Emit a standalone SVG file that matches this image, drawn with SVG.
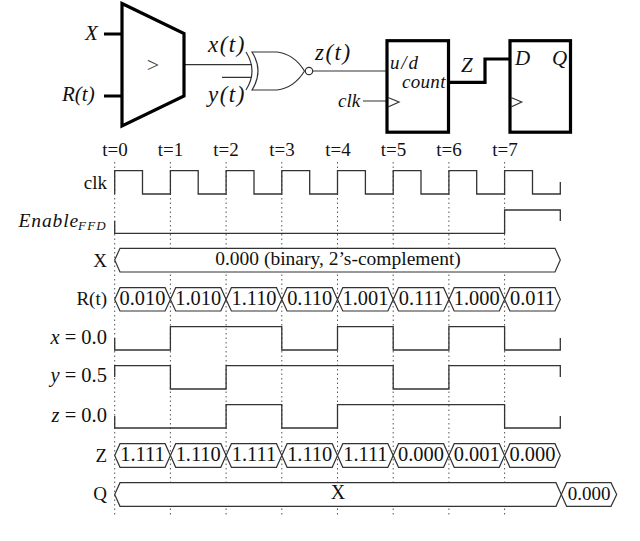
<svg xmlns="http://www.w3.org/2000/svg" width="640" height="541" viewBox="0 0 640 541">
<style>
text{font-family:"Liberation Serif","Times New Roman",serif;fill:#111;font-size:19px}
.i{font-style:italic}
.r{text-anchor:end}
.m{text-anchor:middle}
.v{font-size:20.400px;text-anchor:middle}
.fn{font-size:23px;font-style:italic;letter-spacing:1.500px}
.eq{font-size:20.500px;text-anchor:end}
.thick{fill:none;stroke:#000;stroke-width:3.2}
.thin{fill:none;stroke:#333;stroke-width:1.2}
.wave{fill:none;stroke:#333;stroke-width:1.3}
.bus{fill:#fff;stroke:#333;stroke-width:1.2}
.grid{fill:none;stroke:#555;stroke-width:1;stroke-dasharray:1.5 3}
</style>
<rect width="640" height="541" fill="#fff"/>
<g id="connectors">
<path class="thick" d="M104 34H122M104 96H122"/>
<path class="thin" d="M184 64.700H252M222 77.300H252M313 71H387M363 101H388"/>
<path class="thick" d="M448 82.300H485V59H510"/>
</g>
<g id="comparator">
<polygon class="thick" points="122,3.500 184,33.500 184,96 122,126"/>
<text class="m" x="153" y="72" style="font-size:22px;fill:#444">&gt;</text>
</g>
<g id="xnor">
<path class="thin" d="M246 52Q258 71 246 90M252 52H277Q294 54 304.500 71Q294 88 277 90H252Q264 71 252 52Z"/>
<circle class="thin" cx="309" cy="71" r="3.700"/>
</g>
<g id="counter">
<rect class="thick" x="387" y="40.700" width="61.500" height="91.500"/>
<path class="thin" d="M388 97.500L399 102L388 107"/>
<text class="i" x="390" y="69" style="letter-spacing:1.800px">u/d</text>
<text class="i" x="402" y="88" style="letter-spacing:.3px">count</text>
</g>
<g id="flipflop">
<rect class="thick" x="510" y="40.700" width="60.500" height="91.500"/>
<path class="thin" d="M511 97.500L521.700 102L511 107"/>
<text class="i" x="515" y="65" style="font-size:21px">D</text>
<text class="i" x="552" y="65" style="font-size:21px">Q</text>
</g>
<g id="circuit-labels">
<text class="i" x="85" y="40" style="font-size:21px">X</text>
<text class="i" x="62" y="101" style="font-size:21px">R(t)</text>
<text class="fn" x="208" y="52">x(t)</text>
<text class="fn" x="208" y="102">y(t)</text>
<text class="fn" x="315" y="60">z(t)</text>
<text class="i" x="461" y="72" style="font-size:21px">Z</text>
<text class="i" x="338" y="107">clk</text>
</g>
<g id="grid">
<path class="grid" d="M114.700 162V517M170.400 162V517M226.100 162V517M281.800 162V517M337.500 162V517M393.200 162V517M448.900 162V517M504.600 162V517"/>
</g>
<g id="time-labels">
<text class="m" x="115" y="156">t=0</text>
<text class="m" x="170.500" y="156">t=1</text>
<text class="m" x="226" y="156">t=2</text>
<text class="m" x="282" y="156">t=3</text>
<text class="m" x="338" y="156">t=4</text>
<text class="m" x="393.500" y="156">t=5</text>
<text class="m" x="449" y="156">t=6</text>
<text class="m" x="505" y="156">t=7</text>
</g>
<g id="sig-clk">
<text class="r" x="107" y="189">clk</text>
<path class="wave" d="M114.700 194V170.700H142.500V194H170.400V170.700H198.200V194H226.100V170.700H254V194H281.800V170.700H309.700V194H337.500V170.700H365.400V194H393.200V170.700H421V194H448.900V170.700H476.700V194H504.600V170.700H532.500V194H560.300V182"/>
</g>
<g id="sig-enable">
<text class="i" x="18.500" y="227" style="font-size:19.500px;letter-spacing:.9px">Enable</text>
<text class="i" x="78" y="229.500" style="font-size:13px;letter-spacing:1.200px">FFD</text>
<path class="wave" d="M114.700 221V233.300H504.600V210H560.300V221"/>
</g>
<g id="sig-X">
<text class="r" x="107" y="267">X</text>
<path class="bus" d="M114.700 260L120 248.300H555L560.300 260L555 272H120Z"/>
<text class="m" x="338" y="265" style="font-size:19.500px">0.000 (binary, 2’s-complement)</text>
</g>
<g id="sig-R">
<text class="r" x="107" y="305">R(t)</text>
<path class="bus" d="M114.700 299.500L120 287.700H165.100L170.400 299.500L165.100 311H120Z"/>
<path class="bus" d="M170.400 299.500L175.700 287.700H220.800L226.100 299.500L220.800 311H175.700Z"/>
<path class="bus" d="M226.100 299.500L231.400 287.700H276.500L281.800 299.500L276.500 311H231.400Z"/>
<path class="bus" d="M281.800 299.500L287.100 287.700H332.200L337.500 299.500L332.200 311H287.100Z"/>
<path class="bus" d="M337.500 299.500L342.800 287.700H387.900L393.200 299.500L387.900 311H342.800Z"/>
<path class="bus" d="M393.200 299.500L398.500 287.700H443.600L448.900 299.500L443.600 311H398.500Z"/>
<path class="bus" d="M448.900 299.500L454.200 287.700H499.300L504.600 299.500L499.300 311H454.200Z"/>
<path class="bus" d="M504.600 299.500L509.900 287.700H555L560.300 299.500L555 311H509.900Z"/>
<text class="v" x="142.500" y="304.500">0.010</text>
<text class="v" x="198.200" y="304.500">1.010</text>
<text class="v" x="254" y="304.500">1.110</text>
<text class="v" x="309.700" y="304.500">0.110</text>
<text class="v" x="365.400" y="304.500">1.001</text>
<text class="v" x="421" y="304.500">0.111</text>
<text class="v" x="476.700" y="304.500">1.000</text>
<text class="v" x="532.500" y="304.500">0.011</text>
</g>
<g id="sig-x">
<text class="eq" x="107" y="344"><tspan class="i">x</tspan> = 0.0</text>
<path class="wave" d="M114.700 338V350H170.400V326.700H281.800V350H337.500V326.700H393.200V350H448.900V326.700H504.600V350H560.300V338"/>
</g>
<g id="sig-y">
<text class="eq" x="107" y="382"><tspan class="i">y</tspan> = 0.5</text>
<path class="wave" d="M114.700 377V365.700H170.400V389H226.100V365.700H393.200V389H448.900V365.700H560.300V377"/>
</g>
<g id="sig-z">
<text class="eq" x="107" y="422"><tspan class="i">z</tspan> = 0.0</text>
<path class="wave" d="M114.700 416V428H226.100V404.700H281.800V428H337.500V404.700H504.600V428H560.300V416"/>
</g>
<g id="sig-Z">
<text class="r" x="107" y="462">Z</text>
<path class="bus" d="M114.700 455.500L120 443.700H165.100L170.400 455.500L165.100 467.300H120Z"/>
<path class="bus" d="M170.400 455.500L175.700 443.700H220.800L226.100 455.500L220.800 467.300H175.700Z"/>
<path class="bus" d="M226.100 455.500L231.400 443.700H276.500L281.800 455.500L276.500 467.300H231.400Z"/>
<path class="bus" d="M281.800 455.500L287.100 443.700H332.200L337.500 455.500L332.200 467.300H287.100Z"/>
<path class="bus" d="M337.500 455.500L342.800 443.700H387.900L393.200 455.500L387.900 467.300H342.800Z"/>
<path class="bus" d="M393.200 455.500L398.500 443.700H443.600L448.900 455.500L443.600 467.300H398.500Z"/>
<path class="bus" d="M448.900 455.500L454.200 443.700H499.300L504.600 455.500L499.300 467.300H454.200Z"/>
<path class="bus" d="M504.600 455.500L509.900 443.700H555L560.300 455.500L555 467.300H509.900Z"/>
<text class="v" x="142.500" y="460.500">1.111</text>
<text class="v" x="198.200" y="460.500">1.110</text>
<text class="v" x="254" y="460.500">1.111</text>
<text class="v" x="309.700" y="460.500">1.110</text>
<text class="v" x="365.400" y="460.500">1.111</text>
<text class="v" x="421" y="460.500">0.000</text>
<text class="v" x="476.700" y="460.500">0.001</text>
<text class="v" x="532.500" y="460.500">0.000</text>
</g>
<g id="sig-Q">
<text class="r" x="107" y="500">Q</text>
<path class="bus" d="M114.700 494.500L120 482.700H556L561.300 494.500L556 506.300H120Z"/>
<path class="bus" d="M561.300 494.500L566.600 482.700H611L616.700 494.500L611 506.300H566.600Z"/>
<text class="m" x="338" y="499" style="font-size:20px">X</text>
<text class="m" x="589" y="499.500">0.000</text>
</g>
</svg>
